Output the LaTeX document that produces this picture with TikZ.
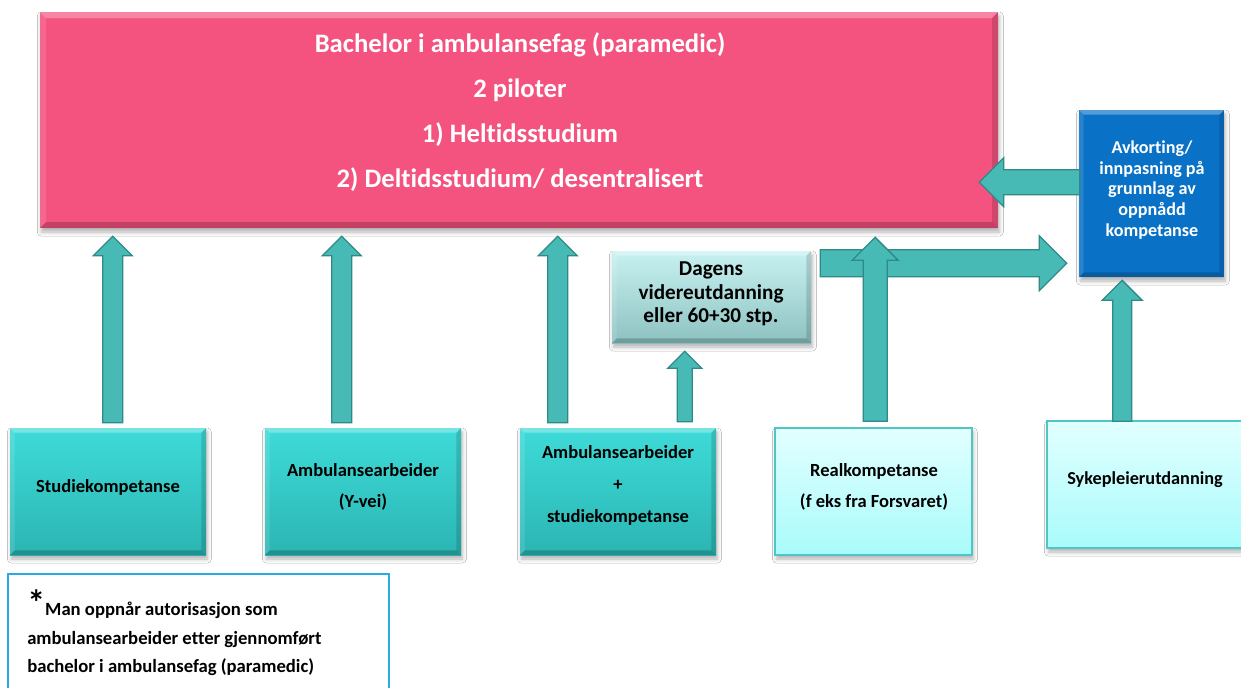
\documentclass[tikz,border=0pt]{standalone}
\usepackage{fontspec}
\setmainfont{Carlito}[Ligatures=NoCommon]
\usetikzlibrary{calc,fit,shadows.blur}

\definecolor{pinkc}{HTML}{F4527F}
\definecolor{bluec}{HTML}{0A72C6}
\definecolor{tealtop}{HTML}{3EDBD8}
\definecolor{tealbot}{HTML}{2BB5B3}
\definecolor{arrowfill}{HTML}{47BAB6}
\definecolor{arrowline}{HTML}{2F8A87}
\definecolor{dagtop}{HTML}{C8F1F1}
\definecolor{dagbot}{HTML}{8DC2C1}
\definecolor{cyantop}{HTML}{E2FFFF}
\definecolor{cyanbot}{HTML}{A9FBFB}
\definecolor{cyanline}{HTML}{4FC6C6}
\definecolor{noteline}{HTML}{2AAAE2}

\newcommand\setfs[2]{\fontsize{#1}{#2}\selectfont}

\tikzset{
  bevel/.style={path picture={
    \path (path picture bounding box.north west) coordinate (bvNW)
          (path picture bounding box.north east) coordinate (bvNE)
          (path picture bounding box.south west) coordinate (bvSW)
          (path picture bounding box.south east) coordinate (bvSE);
    \fill[white,opacity=.30] (bvNW) -- (bvNE) -- ([xshift=-#1,yshift=-#1]bvNE) -- ([xshift=#1,yshift=-#1]bvNW) -- cycle;
    \fill[white,opacity=.12] (bvNW) -- (bvSW) -- ([xshift=#1,yshift=#1]bvSW) -- ([xshift=#1,yshift=-#1]bvNW) -- cycle;
    \fill[black,opacity=.20] (bvSW) -- (bvSE) -- ([xshift=-#1,yshift=#1]bvSE) -- ([xshift=#1,yshift=#1]bvSW) -- cycle;
    \fill[black,opacity=.14] (bvNE) -- (bvSE) -- ([xshift=-#1,yshift=#1]bvSE) -- ([xshift=-#1,yshift=-#1]bvNE) -- cycle;
  }},
  bevel/.default=4pt,
  myshadow/.style={blur shadow={shadow xshift=1pt, shadow yshift=-3pt, shadow blur radius=3pt, shadow opacity=30}},
  pinkbox/.style={inner sep=0pt, fill=pinkc, bevel=4.5pt, myshadow},
  bluebox/.style={inner sep=0pt, fill=bluec, bevel=3.5pt, myshadow},
  dagbox/.style={inner sep=0pt, top color=dagtop, bottom color=dagbot, bevel=3.5pt, myshadow},
  tealbox/.style={inner sep=0pt, top color=tealtop, bottom color=tealbot, bevel=3.5pt, myshadow},
  cyanbox/.style={inner sep=0pt, top color=cyantop, bottom color=cyanbot, draw=cyanline, line width=1.2pt, myshadow},
  notebox/.style={inner sep=0pt, fill=white, draw=noteline, line width=1.5pt},
  txt/.style={inner sep=0pt, align=center, text=black},
  wtxt/.style={inner sep=0pt, align=center, text=white},
  shafthalf/.store in=\shafthw,
  headhalf/.store in=\headhw,
  arr/.style={draw=arrowline, fill=arrowfill, line width=1pt, line join=miter},
  uparr/.style={arr, to path={let \p1=(\tikztostart), \p2=(\tikztotarget) in
     (\x1-\shafthw,\y1) -- (\x1-\shafthw,\y2-\headhw) -- (\x1-\headhw,\y2-\headhw) -- (\x1,\y2)
     -- (\x1+\headhw,\y2-\headhw) -- (\x1+\shafthw,\y2-\headhw) -- (\x1+\shafthw,\y1) -- cycle}},
  rightarr/.style={arr, to path={let \p1=(\tikztostart), \p2=(\tikztotarget) in
     (\x1,\y1+\shafthw) -- (\x2-\headhw,\y1+\shafthw) -- (\x2-\headhw,\y1+\headhw) -- (\x2,\y1)
     -- (\x2-\headhw,\y1-\headhw) -- (\x2-\headhw,\y1-\shafthw) -- (\x1,\y1-\shafthw) -- cycle}},
  leftarr/.style={arr, to path={let \p1=(\tikztostart), \p2=(\tikztotarget) in
     (\x1,\y1+\shafthw) -- (\x2+\headhw,\y1+\shafthw) -- (\x2+\headhw,\y1+\headhw) -- (\x2,\y1)
     -- (\x2+\headhw,\y1-\headhw) -- (\x2+\headhw,\y1-\shafthw) -- (\x1,\y1-\shafthw) -- cycle}},
}

\begin{document}
\begin{tikzpicture}[x=0.75pt,y=-0.75pt]
\useasboundingbox (0,0) rectangle (1241,687);
\fill[white] (0,0) rectangle (1241,687);

% boxes
\node[pinkbox, fit={(40,12)(998,228)}] (pink) {};
\node[bluebox, fit={(1079,110)(1224,277)}] (blue) {};
\node[dagbox, fit={(612,251)(811,343)}] (dag) {};
\node[tealbox, fit={(10,428)(206,555)}] (b1) {};
\node[tealbox, fit={(265,428)(461,555)}] (b2) {};
\node[tealbox, fit={(520,428)(716,555)}] (b3) {};
\node[cyanbox, fit={(775,428)(972,555)}] (b4) {};
\node[cyanbox, fit={(1047,421)(1256,548)}] (b5) {};
\node[notebox, fit={(8,574)(389,705)}] (note) {};

% arrow end points
\coordinate (a1s) at ($(b1.north west)+(103,-5)$);
\coordinate (a1e) at ($(a1s |- pink.south)+(0,8)$);
\coordinate (a2s) at ($(b2.north west)+(77,-5)$);
\coordinate (a2e) at ($(a2s |- pink.south)+(0,8)$);
\coordinate (a3s) at ($(b3.north west)+(38,-5)$);
\coordinate (a3e) at ($(a3s |- pink.south)+(0,8)$);
\coordinate (a4s) at ($(b3.north west)+(165,-6)$);
\coordinate (a4e) at ($(a4s |- dag.south)+(0,8)$);
\coordinate (a5s) at ($(b4.north west)+(101,-6)$);
\coordinate (a5e) at ($(a5s |- pink.south)+(0,9)$);
\coordinate (a6s) at ($(b5.north west)+(76,1)$);
\coordinate (a6e) at ($(a6s |- blue.south)+(0,3)$);
\coordinate (rs) at ($(dag.north east)+(9,12.5)$);
\coordinate (re) at ($(rs -| blue.west)+(-12,0)$);
\coordinate (ls) at ($(blue.north west)+(1,72.5)$);
\coordinate (le) at ($(ls -| pink.east)+(-19,0)$);

% arrows
\path[leftarr, shafthalf=9.4pt, headhalf=18.4pt] (ls) to (le);
\path[uparr, shafthalf=7.5pt, headhalf=14.6pt] (a1s) to (a1e);
\path[uparr, shafthalf=7.5pt, headhalf=14.6pt] (a2s) to (a2e);
\path[uparr, shafthalf=7.5pt, headhalf=14.6pt] (a3s) to (a3e);
\path[uparr, shafthalf=5.6pt, headhalf=12.75pt] (a4s) to (a4e);
\path[rightarr, shafthalf=10.1pt, headhalf=20.6pt] (rs) to (re);
\path[uparr, shafthalf=9pt, headhalf=17.25pt] (a5s) to (a5e);
\path[uparr, shafthalf=7.1pt, headhalf=15pt] (a6s) to (a6e);

% texts
\node[wtxt, font=\bfseries\setfs{20pt}{33.75pt}] (tpink) at (520,112.5)
  {Bachelor i ambulansefag (paramedic)\\2 piloter\\1) Heltidsstudium\\2) Deltidsstudium/ desentralisert};
\node[wtxt, font=\bfseries\setfs{13.6pt}{15.6pt}] (tblue) at (1152,190)
  {Avkorting/\\innpasning på\\grunnlag av\\oppnådd\\kompetanse};
\node[txt, font=\bfseries\setfs{15.9pt}{17.6pt}] (tdag) at (711,294)
  {Dagens\\videreutdanning\\eller 60+30 stp.};
\node[txt, font=\bfseries\setfs{13.9pt}{23.25pt}] (tb1) at (108,487) {Studiekompetanse};
\node[txt, font=\bfseries\setfs{13.9pt}{23.25pt}] (tb2) at (363,487) {Ambulansearbeider\\(Y-vei)};
\node[txt, font=\bfseries\setfs{13.9pt}{24pt}] (tb3) at (618,485) {Ambulansearbeider\\+\\studiekompetanse};
\node[txt, font=\bfseries\setfs{13.9pt}{23.25pt}] (tb4) at (874,487) {Realkompetanse\\(f eks fra Forsvaret)};
\node[txt, font=\bfseries\setfs{13.7pt}{23.25pt}] (tb5) at (1145,480) {Sykepleierutdanning};

\node[txt, anchor=base west, font=\bfseries\setfs{14pt}{16pt}] (n1) at (27,615)
  {{\setfs{27pt}{27pt}*}Man oppnår autorisasjon som};
\node[txt, anchor=base west, font=\bfseries\setfs{14pt}{16pt}] (n2) at (27,644.5)
  {ambulansearbeider etter gjennomført};
\node[txt, anchor=base west, font=\bfseries\setfs{14pt}{16pt}] (n3) at (27,672.5)
  {bachelor i ambulansefag (paramedic)};
\end{tikzpicture}
\end{document}
